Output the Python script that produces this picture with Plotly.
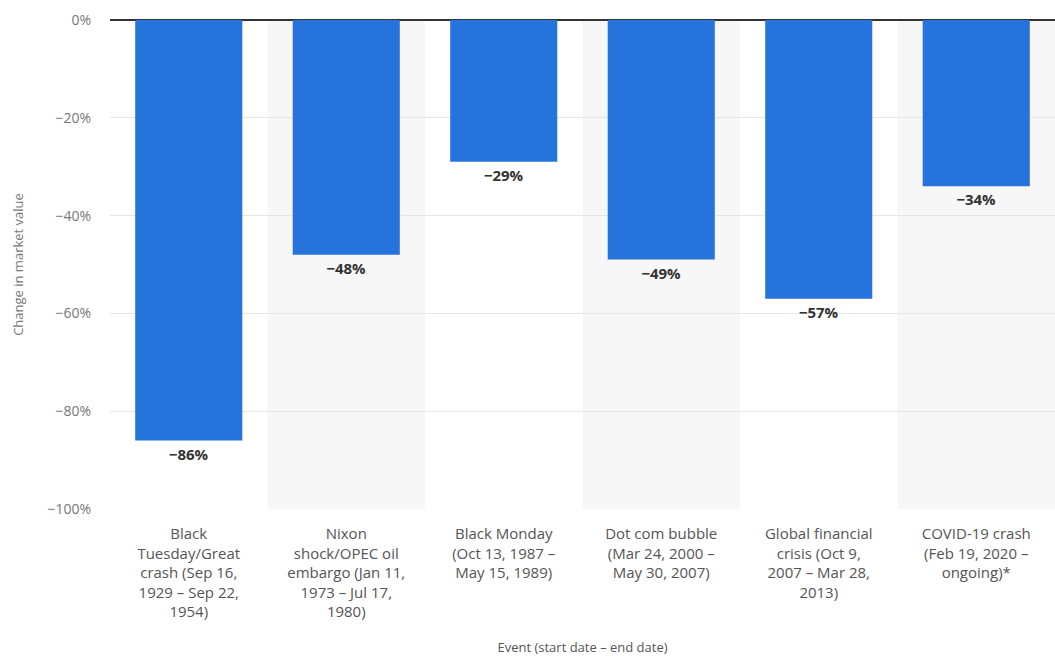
import plotly.graph_objects as go

categories = [
    "Black<br>Tuesday/Great<br>crash (Sep 16,<br>1929 – Sep 22,<br>1954)",
    "Nixon<br>shock/OPEC oil<br>embargo (Jan 11,<br>1973 – Jul 17,<br>1980)",
    "Black Monday<br>(Oct 13, 1987 –<br>May 15, 1989)",
    "Dot com bubble<br>(Mar 24, 2000 –<br>May 30, 2007)",
    "Global financial<br>crisis (Oct 9,<br>2007 – Mar 28,<br>2013)",
    "COVID-19 crash<br>(Feb 19, 2020 –<br>ongoing)*",
]
values = [-86, -48, -29, -49, -57, -34]
y_ticks = [0, -20, -40, -60, -80, -100]

def pct(v):
    return ("−" if v < 0 else "") + f"{abs(v)}%"

labels = ["<b>" + pct(v) + "</b>" for v in values]
y_ticktext = [pct(v) for v in y_ticks]
xs = list(range(len(categories)))

fig = go.Figure()
fig.add_trace(go.Bar(
    x=xs, y=values, width=0.68,
    marker=dict(color="#2673db", line=dict(width=0)),
    text=labels, textposition="outside",
    textfont=dict(family="Open Sans, sans-serif", size=15, color="#333333"),
    cliponaxis=False,
))

shapes = []
for i in xs:
    if i % 2 == 1:
        shapes.append(dict(type="rect", xref="x", yref="paper", x0=i - 0.5, x1=i + 0.5,
                           y0=0, y1=1, fillcolor="#f7f7f7", line=dict(width=0), layer="below"))

fig.update_layout(
    width=1055, height=656,
    margin=dict(l=110, r=0, t=20, b=147),
    paper_bgcolor="white", plot_bgcolor="white",
    showlegend=False,
    shapes=shapes,
    font=dict(family="Open Sans, sans-serif", color="#666666"),
    xaxis=dict(
        tickmode="array", tickvals=xs, ticktext=categories,
        range=[-0.5, len(categories) - 0.5],
        tickfont=dict(size=15, color="#555555"),
        ticklabelstandoff=14, automargin=False,
        showgrid=False, zeroline=False, showline=False, ticks="",
        title=dict(text="Event (start date – end date)", font=dict(size=13, color="#555555"), standoff=30),
    ),
    yaxis=dict(
        range=[-100, 0], tickmode="array", tickvals=y_ticks, ticktext=y_ticktext,
        tickfont=dict(size=14, color="#777777"),
        ticklabelstandoff=18, automargin=False,
        showgrid=True, gridcolor="#e6e6e6", gridwidth=1,
        zeroline=True, zerolinecolor="#333333", zerolinewidth=2,
        ticks="", ticklen=0,
        title=dict(text="Change in market value", font=dict(size=13, color="#777777"), standoff=20),
    ),
)

fig.write_html("out.html")
